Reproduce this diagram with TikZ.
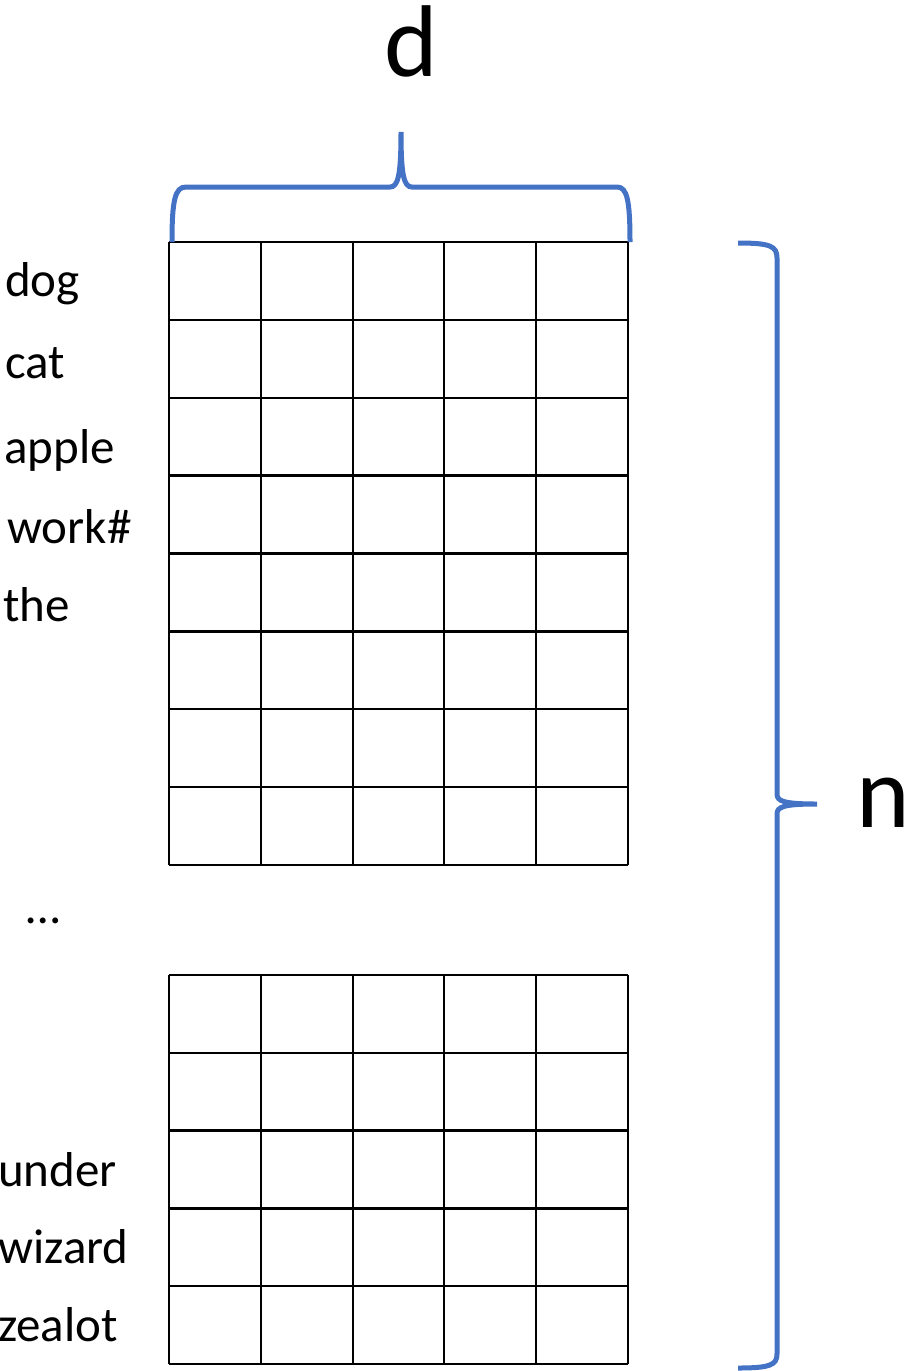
\documentclass[tikz,border=0pt]{standalone}
\usepackage{fontspec}
\setmainfont{Carlito}
\definecolor{braceblue}{HTML}{4472C4}
\begin{document}
\begin{tikzpicture}[x=1pt,y=-1pt,
  cellline/.style={line width=2.4pt,black},
  bracestyle/.style={line width=5pt,braceblue,line cap=butt},
  word/.style={anchor=base west,inner sep=0pt,font=\fontsize{49}{58}\selectfont},
  biglabel/.style={inner sep=0pt,font=\fontsize{102}{120}\selectfont}]
\useasboundingbox (0,0) rectangle (908,1371);
% grid 1
\foreach \y in {0,...,8} \draw[cellline] (169,242+\y*77.875) -- (628,242+\y*77.875);
\foreach \x in {169,261,353,444,536,628} \draw[cellline] (\x,242) -- (\x,865);
% grid 2
\foreach \y in {0,...,5} \draw[cellline] (169,975+\y*77.8) -- (628,975+\y*77.8);
\foreach \x in {169,261,353,444,536,628} \draw[cellline] (\x,975) -- (\x,1364);
% braces
\coordinate (tl) at (172,242);
\coordinate (tc) at (401,132);
\coordinate (tr) at (630,242);
\draw[bracestyle] (tl) .. controls (172,200) and (175,187) .. (186,187) -- (390,187)
  .. controls (398,187) and (401,176) .. (tc)
  .. controls (401,176) and (404,187) .. (412,187) -- (617,187)
  .. controls (627,187) and (630,200) .. (tr);
\coordinate (rt) at (738,243);
\coordinate (rc) at (817,804);
\coordinate (rb) at (738,1368);
\draw[bracestyle] (rt) .. controls (770,243) and (777,246) .. (777,258) -- (777,794)
  .. controls (777,801) and (783,804) .. (rc)
  .. controls (783,804) and (777,807) .. (777,814) -- (777,1354)
  .. controls (777,1365) and (770,1368) .. (rb);
% labels
\node[biglabel,anchor=base] (d) at (411,76) {d};
\node[biglabel,anchor=base west] (n) at (856,827) {n};
\node[word] (w1) at (5,296) {dog};
\node[word] (w2) at (5,378) {cat};
\node[word] (w3) at (4,463) {apple};
\node[word] (w4) at (7,543) {work\#};
\node[word] (w5) at (3,621) {the};
\node[word] (dots) at (26,923) {…};
\node[word] (w6) at (-2,1186) {under};
\node[word] (w7) at (-2,1263) {wizard};
\node[word] (w8) at (-2,1341) {zealot};
\end{tikzpicture}
\end{document}
